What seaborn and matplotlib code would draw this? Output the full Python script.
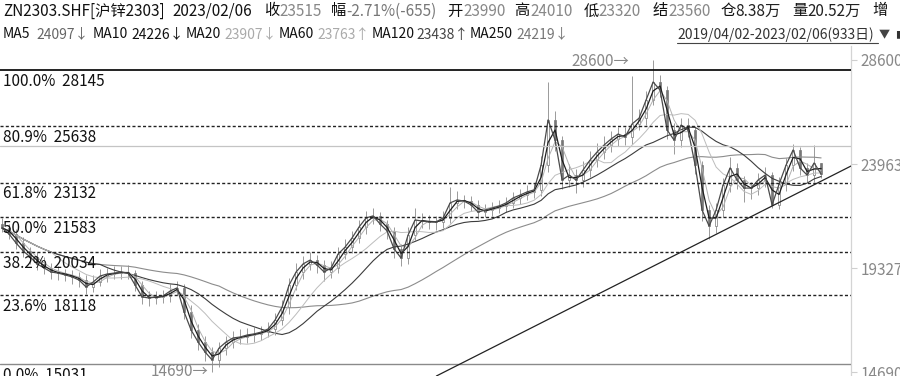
import numpy as np
import pandas as pd
import matplotlib
matplotlib.use("Agg")
import matplotlib.pyplot as plt
import seaborn as sns

# ---------------- data (~8 trading days per bar) ----------------
opens = [21300, 21100, 20830, 20450, 20080, 19830, 19500, 19340, 19160, 19090,
         19010, 18940, 18800, 18470, 18710, 18960, 19070, 19090, 19160, 19110,
         18560, 18050, 17980, 18050, 18070, 18310, 18430, 17380, 16570, 16040,
         15590, 15220, 15770, 16020, 16220, 16240, 16350, 16380, 16480, 16600,
         17020, 17580, 18580, 19140, 19520, 19690, 19450, 19160, 19320, 19960,
         20250, 20680, 21150, 21570, 21640, 21300, 20970, 20190, 19760, 20810,
         21460, 21430, 21370, 21390, 21550, 22240, 22350, 22320, 22130, 21830,
         21900, 22010, 22080, 22240, 22440, 22590, 22710, 22820, 23910, 25940,
         25020, 23260, 23460, 23260, 23690, 24150, 24490, 24820, 25070, 25310,
         25160, 25760, 26000, 26830, 27610, 27250, 25490, 25020, 25710, 25470,
         23910, 21920, 21190, 21920, 23020, 23800, 23240, 22900, 22880, 23260,
         23460, 22150, 23060, 23930, 24580, 23800, 23460, 23990]
highs = [21550, 21300, 21050, 20700, 20280, 20060, 19800, 19540, 19410, 19290,
         19260, 19140, 19000, 19000, 19270, 19310, 19400, 19400, 19460, 19260,
         18760, 18300, 18290, 18330, 18600, 18740, 18630, 17680, 16820, 16290,
         15790, 16010, 16280, 16510, 16600, 16640, 16690, 16730, 16910, 17320,
         17890, 18880, 19550, 19870, 20040, 19890, 19700, 19630, 20250, 20610,
         20980, 21460, 21870, 22000, 21840, 21450, 21170, 20390, 21150, 22020,
         21760, 21680, 21630, 21860, 22930, 22760, 22600, 22520, 22380, 22160,
         22250, 22340, 22480, 22700, 22830, 23020, 23110, 24320, 27600, 26340,
         25220, 23970, 23760, 24100, 24540, 24900, 25210, 25430, 25600, 25610,
         27900, 26410, 27220, 28600, 27910, 27450, 25790, 26010, 26010, 25670,
         24110, 22120, 22210, 23330, 24290, 24000, 23440, 23150, 23550, 23820,
         23610, 23370, 24220, 24840, 24730, 24000, 24800, 24010]
lows = [20910, 20640, 20190, 19840, 19520, 19260, 19080, 18850, 18800, 18770,
        18630, 18490, 18170, 18270, 18510, 18710, 18820, 18840, 18850, 18320,
        17740, 17640, 17730, 17750, 17820, 18110, 17070, 16210, 15680, 15180,
        14690, 14920, 15470, 15770, 15920, 15990, 16050, 16130, 16230, 16350,
        16770, 17280, 18330, 18840, 19220, 19110, 18750, 18860, 19120, 19710,
        20000, 20430, 20850, 21270, 20990, 20620, 19780, 19420, 19510, 20560,
        21120, 21080, 21020, 21090, 21350, 21940, 22010, 21890, 21520, 21580,
        21650, 21760, 21830, 21990, 22190, 22340, 22460, 22520, 23610, 24530,
        22850, 22960, 22650, 22960, 23390, 23850, 24190, 24520, 24770, 24820,
        24860, 25460, 25700, 26580, 26960, 25080, 24430, 24720, 25180, 23520,
        21410, 20600, 20890, 21620, 22720, 22850, 22290, 22390, 22580, 22960,
        22000, 21950, 22760, 23630, 23490, 23170, 23160, 23320]
closes = [21110, 20840, 20440, 20090, 19820, 19510, 19330, 19150, 19100, 19020,
          18930, 18790, 18480, 18700, 18970, 19060, 19100, 19150, 19100, 18570,
          18040, 17990, 18040, 18080, 18300, 18440, 17370, 16560, 16030, 15580,
          15230, 15760, 16030, 16210, 16250, 16340, 16390, 16470, 16610, 17010,
          17590, 18570, 19150, 19510, 19680, 19460, 19150, 19330, 19950, 20260,
          20670, 21160, 21560, 21650, 21290, 20980, 20180, 19770, 20800, 21470,
          21420, 21380, 21380, 21560, 22230, 22360, 22310, 22140, 21820, 21910,
          22000, 22090, 22230, 22450, 22580, 22720, 22810, 23920, 25930, 25030,
          23250, 23470, 23250, 23700, 24140, 24500, 24810, 25080, 25300, 25170,
          25750, 26010, 26820, 27620, 27260, 25480, 25030, 25700, 25480, 23920,
          21910, 21200, 21910, 23030, 23790, 23250, 22890, 22890, 23250, 23470,
          22140, 23070, 23920, 24590, 23790, 23470, 24010, 23515]

ma_names = ["MA5", "MA10", "MA20", "MA60", "MA120", "MA250"]
ma_windows = [1, 2, 3, 8, 15, 32]          # in bars (~8 days per bar)
ma_colors = ["#4a4a4a", "#1e1e1e", "#b0b0b0", "#bcbcbc", "#3c3c3c", "#8c8c8c"]
ma_widths = [0.9, 0.9, 0.7, 0.7, 0.8, 0.8]

fib_pcts = ["100.0%", "80.9%", "61.8%", "50.0%", "38.2%", "23.6%", "0.0%"]
fib_vals = [28145, 25638, 23132, 21583, 20034, 18118, 15031]
ref_line_val = 24760
axis_ticks = [28600, 23963, 19327, 14690]
high_mark, high_bar = 28600, 93
low_mark, low_bar = 14690, 30
trend_bars = [60, 121]
trend_prices = [14190, 23830]

header1 = [("ZN2303.SHF[沪锌2303]", 3, "#111"), ("2023/02/06", 172, "#111"),
           ("收", 264, "#111"), ("23515", 279, "#888"),
           ("幅", 331, "#111"), ("-2.71%(-655)", 346, "#777"),
           ("开", 447, "#111"), ("23990", 463, "#888"),
           ("高", 514, "#111"), ("24010", 530, "#888"),
           ("低", 584, "#111"), ("23320", 598, "#888"),
           ("结", 653, "#111"), ("23560", 668, "#888"),
           ("仓", 721, "#111"), ("8.38万", 735, "#222"),
           ("量", 792, "#111"), ("20.52万", 807, "#222"),
           ("增", 872, "#111")]
header2 = [("MA5", 3, "#111"), ("24097↓", 36, "#666"),
           ("MA10", 93, "#111"), ("24226↓", 131, "#111"),
           ("MA20", 186, "#111"), ("23907↓", 224, "#aaa"),
           ("MA60", 279, "#111"), ("23763↑", 317, "#aaa"),
           ("MA120", 372, "#111"), ("23438↑", 416, "#444"),
           ("MA250", 470, "#111"), ("24219↓", 516, "#777")]
date_range = "2019/04/02-2023/02/06(933日)"

# ---------------- figure ----------------
sns.set_theme(style="white")
plt.rcParams["font.family"] = ["Noto Sans CJK SC", "DejaVu Sans"]

W, H = 900, 376
fig = plt.figure(figsize=(W / 100, H / 100), dpi=100)
ax = fig.add_axes([0, 0, 851 / W, 330 / H])

n = len(closes)
df = pd.DataFrame({"bar": np.arange(n), "open": opens, "high": highs,
                   "low": lows, "close": closes})

# candles
up = df["close"] >= df["open"]
ax.vlines(df["bar"], df["low"], df["high"], color="#8a8a8a", lw=0.6, zorder=2)
body_lo = np.minimum(df["open"], df["close"])
body_h = np.maximum(np.abs(df["close"] - df["open"]), 40)
ax.bar(df["bar"][up], body_h[up], bottom=body_lo[up], width=0.38,
       color="white", edgecolor="#777", linewidth=0.5, zorder=3)
ax.bar(df["bar"][~up], body_h[~up], bottom=body_lo[~up], width=0.38,
       color="#777", edgecolor="#777", linewidth=0.5, zorder=3)

# moving averages
for name, win in zip(ma_names, ma_windows):
    df[name] = df["close"].rolling(win, min_periods=1).mean()
for name, col, lw in zip(ma_names[::-1], ma_colors[::-1], ma_widths[::-1]):
    sns.lineplot(data=df, x="bar", y=name, color=col, lw=lw, ax=ax, zorder=4)

# fibonacci levels
for pct, val in zip(fib_pcts, fib_vals):
    if pct == "100.0%":
        ax.axhline(val, color="#111", lw=1.3, zorder=5)
    elif pct == "0.0%":
        ax.axhline(val, color="#8a8a8a", lw=1.0, zorder=5)
    else:
        ax.axhline(val, color="#222", lw=1.0, ls=(0, (2.2, 1.6)), zorder=5)
    ax.annotate(f"{pct}  {val}", xy=(0, val), xycoords=("axes fraction", "data"),
                xytext=(3, -15.5), textcoords="offset pixels",
                ha="left", va="baseline", fontsize=11, color="#111", zorder=6)
ax.axhline(ref_line_val, color="#c4c4c4", lw=0.9, zorder=5)

# trend line
ax.axline((trend_bars[0], trend_prices[0]), (trend_bars[1], trend_prices[1]),
          color="#222", lw=0.9, zorder=5)

# extreme marks
ax.annotate(f"{high_mark}→", xy=(high_bar, high_mark), xytext=(-24, -6),
            textcoords="offset pixels", ha="right", va="baseline",
            fontsize=11, color="#888")
ax.annotate(f"{low_mark}→", xy=(low_bar, low_mark), xytext=(-4, -4),
            textcoords="offset pixels", ha="right", va="baseline",
            fontsize=11, color="#888")

# axes styling
ax.set_xlim(-0.3, -0.3 + 851 / 7)
ax.set_ylim(28600 - 316 * 44.58, 28600 + 14 * 44.58)
ax.set_xlabel("")
ax.set_ylabel("")
ax.set_xticks([])
ax.yaxis.tick_right()
ax.set_yticks(axis_ticks)
ax.set_yticklabels([str(t) for t in axis_ticks])
ax.tick_params(axis="y", right=True, length=4, width=0.8, color="#cfcfcf",
               labelcolor="#888", labelsize=11, pad=3)
for s in ["left", "top", "bottom"]:
    ax.spines[s].set_visible(False)
ax.spines["right"].set_color("#d4d4d4")
ax.spines["right"].set_linewidth(0.9)

# header texts
for txt, x, col in header1:
    fig.text(x / W, 1 - 15.5 / H, txt, ha="left", va="baseline", fontsize=11, color=col)
for txt, x, col in header2:
    fig.text(x / W, 1 - 38.5 / H, txt, ha="left", va="baseline", fontsize=10, color=col)
fig.text(677 / W, 1 - 38.5 / H, date_range, ha="left", va="baseline",
         fontsize=10, color="#333")
fig.add_artist(plt.Line2D([677 / W, 878 / W], [1 - 43 / H, 1 - 43 / H],
                          color="#444", lw=0.8))
fig.text(879 / W, 1 - 38.5 / H, "▼", ha="left", va="baseline", fontsize=8, color="#444")
fig.text(895 / W, 1 - 38 / H, "■", ha="left", va="baseline", fontsize=7, color="#333")

fig.savefig("out.png", dpi=100)
